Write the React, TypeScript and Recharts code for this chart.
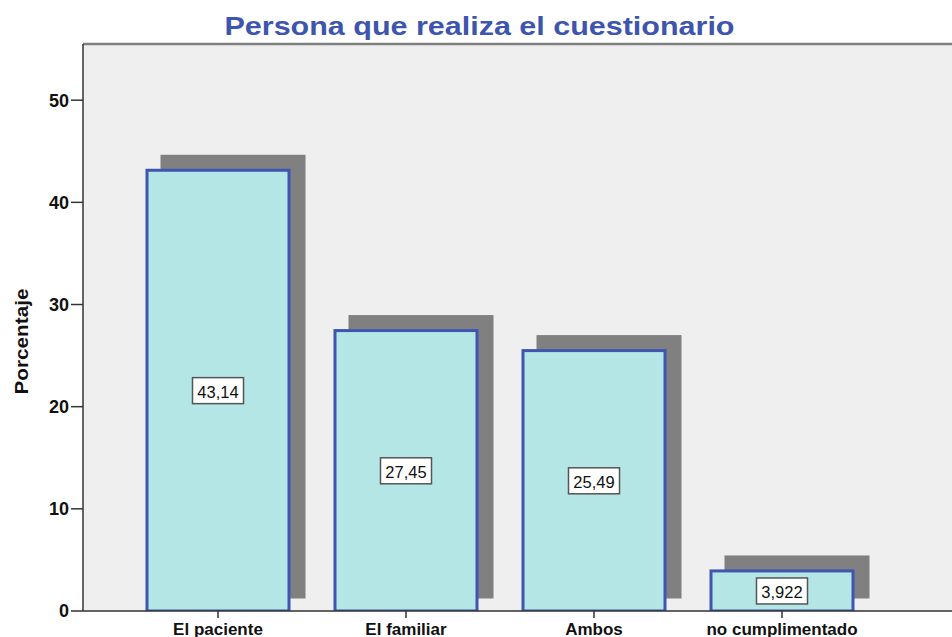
import React from "react";
import {
  BarChart,
  Bar,
  XAxis,
  YAxis,
  CartesianGrid,
  ReferenceLine,
  LabelList,
} from "recharts";

const categories = ["El paciente", "El familiar", "Ambos", "no cumplimentado"];
const percentages = [43.14, 27.45, 25.49, 3.922];
const valueLabels = ["43,14", "27,45", "25,49", "3,922"];
const yTicks = [0, 10, 20, 30, 40, 50];

const data = categories.map((name, i) => ({
  name,
  value: percentages[i],
  label: valueLabels[i],
}));

const FONT = "'Liberation Sans', Arial, sans-serif";

const ShadowBar = (props: any) => {
  const { x, y, width, height } = props;
  if (width == null || height == null) return null;
  return (
    <g>
      <rect
        x={x - 1.5 + 15}
        y={y - 1.5 - 14}
        width={width + 3}
        height={height + 3}
        fill="#808080"
      />
      <rect
        x={x}
        y={y}
        width={width}
        height={height}
        fill="#b4e6e6"
        stroke="#4055b0"
        strokeWidth={3}
      />
    </g>
  );
};

const ValueBox = (props: any) => {
  const { x, y, width, height, index } = props;
  const cx = x + width / 2;
  const cy = y + height / 2;
  const w = 51;
  const h = 26;
  return (
    <g>
      <rect
        x={cx - w / 2}
        y={cy - h / 2}
        width={w}
        height={h}
        fill="#ffffff"
        stroke="#555"
        strokeWidth={1.5}
      />
      <text
        x={cx}
        y={cy + 1}
        textAnchor="middle"
        dominantBaseline="central"
        fontFamily={FONT}
        fontSize={16.5}
        fill="#111"
      >
        {valueLabels[index]}
      </text>
    </g>
  );
};

export default function App() {
  return (
    <div
      style={{
        position: "absolute",
        left: 0,
        top: 0,
        width: 952,
        height: 637,
        overflow: "hidden",
        background: "#ffffff",
      }}
    >
      <BarChart
        width={1000}
        height={637}
        data={data}
        margin={{ top: 44, right: 0, bottom: 0, left: 0 }}
      >
        <CartesianGrid
          fill="#efefef"
          horizontal={false}
          vertical={false}
          stroke="none"
        />
        <ReferenceLine y={55.5} stroke="#808080" strokeWidth={2.5} />
        <XAxis
          dataKey="name"
          interval={0}
          height={26}
          padding={{ left: 41, right: 124 }}
          tickSize={7}
          tickMargin={5}
          axisLine={{ stroke: "#333", strokeWidth: 1.5 }}
          tickLine={{ stroke: "#333", strokeWidth: 1.5 }}
          tick={{ fontSize: 17, fontWeight: "bold", fill: "#111", fontFamily: FONT }}
        />
        <YAxis
          width={83}
          domain={[0, 55.5]}
          ticks={yTicks}
          allowDataOverflow
          tickSize={12}
          tickMargin={2}
          axisLine={{ stroke: "#333", strokeWidth: 1.5 }}
          tickLine={{ stroke: "#333", strokeWidth: 1.5 }}
          tick={{ fontSize: 18, fontWeight: "bold", fill: "#111", fontFamily: FONT }}
        />
        <Bar
          dataKey="value"
          barSize={142}
          shape={<ShadowBar />}
          isAnimationActive={false}
        >
          <LabelList dataKey="label" content={<ValueBox />} />
        </Bar>
      </BarChart>
      <svg
        width={952}
        height={637}
        style={{ position: "absolute", left: 0, top: 0, pointerEvents: "none" }}
      >
        <text
          x={479.5}
          y={34.5}
          textAnchor="middle"
          fontFamily={FONT}
          fontWeight="bold"
          fontSize={25}
          fill="#3d55ad"
          textLength={510}
          lengthAdjust="spacingAndGlyphs"
        >
          Persona que realiza el cuestionario
        </text>
        <text
          x={0}
          y={0}
          transform="translate(27.5,341.5) rotate(-90)"
          textAnchor="middle"
          fontFamily={FONT}
          fontWeight="bold"
          fontSize={19}
          fill="#111"
          textLength={106}
          lengthAdjust="spacingAndGlyphs"
        >
          Porcentaje
        </text>
      </svg>
    </div>
  );
}
